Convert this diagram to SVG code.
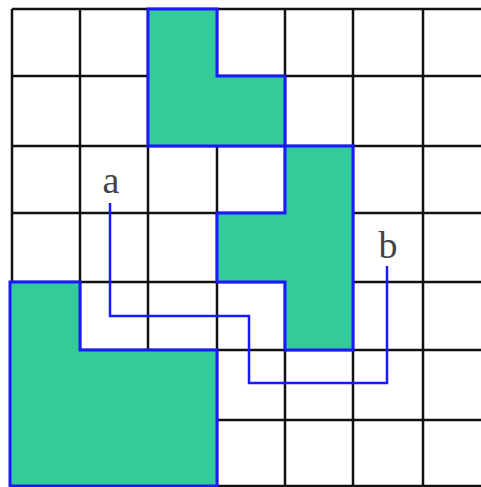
<svg xmlns="http://www.w3.org/2000/svg" width="481" height="487" viewBox="0 0 481 487">
<style>
.grid{stroke:#111;stroke-width:2.5;fill:none}
.shape{fill:#33cc96;stroke:#1a1aff;stroke-width:3;stroke-linejoin:miter}
.route{fill:none;stroke:#1a1aff;stroke-width:2.5}
.lbl{font-family:"Liberation Serif","DejaVu Serif",serif;font-size:38px;fill:#444;text-anchor:middle}
</style>
<rect width="481" height="487" fill="#fff"/>
<g id="grid" class="grid">
<path d="M12 9V487M80 9V487M148 9V487M217 9V487M285 9V487M353 9V487M423 9V487"/>
<path d="M12 9H481M12 76H481M12 146H481M12 213H481M12 282H481M12 350H481M12 420H481M12 486H481"/>
</g>
<g id="shape1"><polygon class="shape" points="148,9 217,9 217,76 285,76 285,146 148,146"/></g>
<g id="shape2"><polygon class="shape" points="285,146 353,146 353,350 285,350 285,282 217,282 217,213 285,213"/></g>
<g id="shape3"><polygon class="shape" points="10,282 80,282 80,350 217,350 217,486 10,486"/></g>
<g id="connectors">
<polyline class="route" points="110,203 110,316 249,316 249,383 387,383 387,266"/>
</g>
<g id="a"><text class="lbl" x="111" y="193">a</text></g>
<g id="b"><text class="lbl" x="388" y="258">b</text></g>
</svg>
